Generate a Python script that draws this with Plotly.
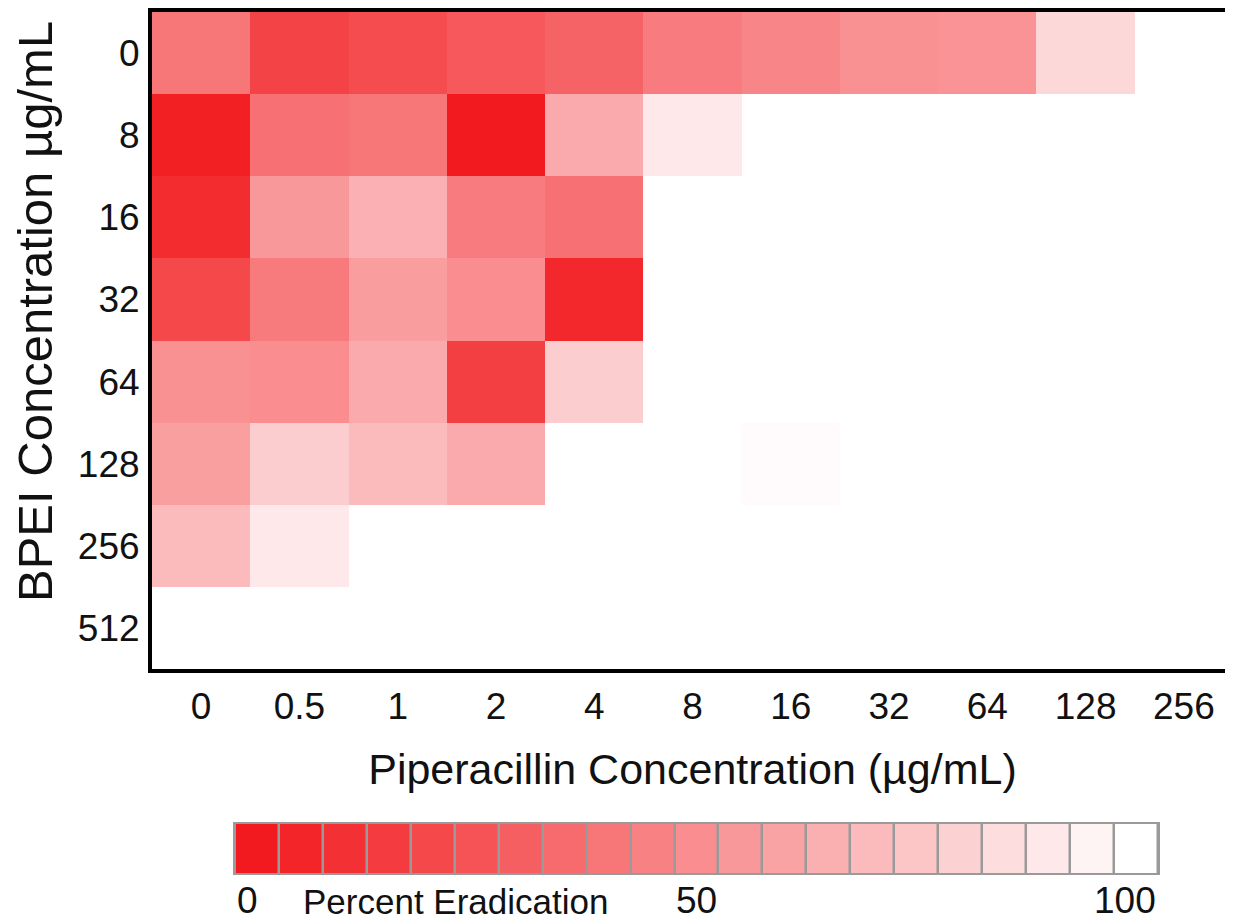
import plotly.graph_objects as go

# Category / tick labels
pip_labels = ["0", "0.5", "1", "2", "4", "8", "16", "32", "64", "128", "256"]
bpei_labels = ["0", "8", "16", "32", "64", "128", "256", "512"]

# Percent eradication, one list per BPEI concentration (row)
bpei_0 = [40, 18, 22, 27, 32, 43, 47, 52, 53, 83, 100]
bpei_8 = [2, 38, 40, 0, 63, 90, 100, 100, 100, 100, 100]
bpei_16 = [8, 55, 66, 43, 38, 100, 100, 100, 100, 100, 100]
bpei_32 = [20, 42, 57, 50, 6, 100, 100, 100, 100, 100, 100]
bpei_64 = [52, 50, 63, 16, 78, 100, 100, 100, 100, 100, 100]
bpei_128 = [58, 78, 70, 63, 100, 100, 98, 100, 100, 100, 100]
bpei_256 = [70, 90, 100, 100, 100, 100, 100, 100, 100, 100, 100]
bpei_512 = [100, 100, 100, 100, 100, 100, 100, 100, 100, 100, 100]

# Discrete legend steps and its labels
scale_values = list(range(0, 101, 5))
scale_ticks = [0, 50, 100]

z = [bpei_0, bpei_8, bpei_16, bpei_32, bpei_64, bpei_128, bpei_256, bpei_512]

# page has an 8px body margin: figure pixel = page pixel - 8
OFF = 8
W, H = 1225, 916


def px(x):
    return (x - OFF) / W


def py(y):
    return 1 - (y - OFF) / H


colorscale = [[0.0, "rgb(242,26,30)"], [1.0, "rgb(255,255,255)"]]
FONT = "Liberation Sans, Arial, sans-serif"
TXT = "#111"

fig = go.Figure()
fig.add_trace(go.Heatmap(
    z=z, x=pip_labels, y=bpei_labels, colorscale=colorscale,
    zmin=0, zmax=100, showscale=False, xaxis="x", yaxis="y",
))
fig.add_trace(go.Heatmap(
    z=[scale_values], x=scale_values, y=[0], colorscale=colorscale,
    zmin=0, zmax=100, showscale=False, xgap=2.5, xaxis="x2", yaxis="y2",
))

annotations = []
for v in scale_ticks:
    if v == scale_ticks[0]:
        xa, xv = "left", v - 2.5
    elif v == scale_ticks[-1]:
        xa, xv = "right", v + 2.5
    else:
        xa, xv = "center", v
    annotations.append(dict(
        text=str(v), xref="x2", yref="paper", x=xv, y=py(900),
        xanchor=xa, yanchor="middle", showarrow=False,
        font=dict(family=FONT, size=37, color=TXT),
    ))
annotations.append(dict(
    text="Percent Eradication", xref="paper", yref="paper",
    x=px(301), y=py(901), xanchor="left", yanchor="middle",
    showarrow=False, font=dict(family=FONT, size=35, color=TXT),
))
annotations.append(dict(
    text="BPEI Concentration µg/mL", xref="paper", yref="paper",
    x=px(35), y=py(312), xanchor="center", yanchor="middle", textangle=-90,
    showarrow=False, font=dict(family=FONT, size=49, color=TXT),
))

fig.update_layout(
    width=W, height=H,
    margin=dict(l=0, r=0, t=0, b=0),
    paper_bgcolor="white",
    plot_bgcolor="#9a9a9a",
    font=dict(family=FONT, color=TXT),
    xaxis=dict(
        domain=[px(152), 1.0], anchor="y",
        type="category", showline=True, linecolor="black", linewidth=4, mirror=True,
        ticks="", ticklabelstandoff=2, showgrid=False, zeroline=False,
        tickfont=dict(family=FONT, size=37, color=TXT),
        title=dict(text="Piperacillin Concentration (µg/mL)", standoff=28,
                   font=dict(family=FONT, size=43, color=TXT)),
    ),
    yaxis=dict(
        domain=[py(669), py(12)], anchor="x",
        type="category", autorange="reversed",
        showline=True, linecolor="black", linewidth=4, mirror=False,
        ticks="", ticklabelstandoff=1, showgrid=False, zeroline=False,
        tickfont=dict(family=FONT, size=37, color=TXT),
    ),
    xaxis2=dict(
        domain=[px(235), px(1158)], anchor="y2",
        range=[-2.5, 102.5], showticklabels=False, ticks="",
        showline=True, linecolor="#9a9a9a", linewidth=2, mirror=True,
        showgrid=False, zeroline=False,
    ),
    yaxis2=dict(
        domain=[py(873), py(824)], anchor="x2",
        range=[-0.5, 0.5], showticklabels=False, ticks="",
        showline=True, linecolor="#9a9a9a", linewidth=2, mirror=True,
        showgrid=False, zeroline=False,
    ),
    annotations=annotations,
)

fig.write_html("out.html")
